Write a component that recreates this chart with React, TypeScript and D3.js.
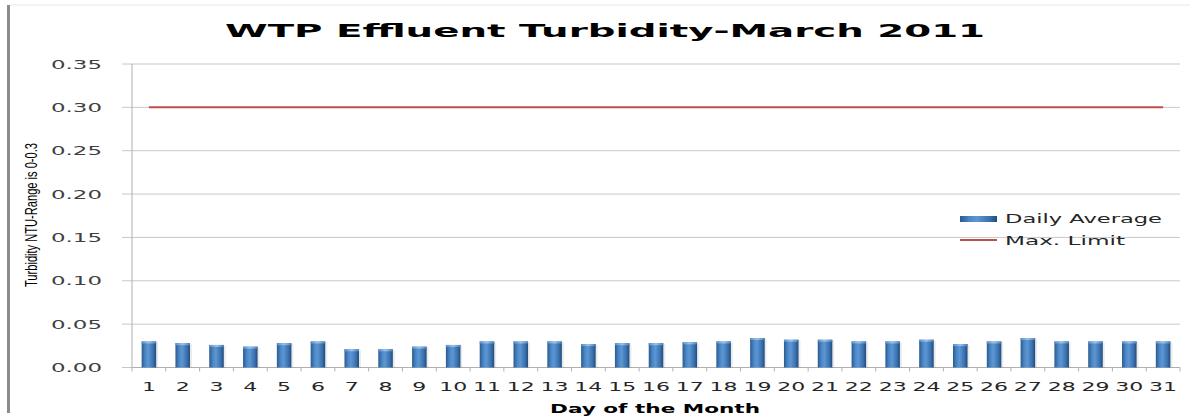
import React from 'react';
import * as d3 from 'd3';

const days = ['1','2','3','4','5','6','7','8','9','10','11','12','13','14','15','16','17','18','19','20','21','22','23','24','25','26','27','28','29','30','31'];
const dailyAverage = [0.030, 0.028, 0.026, 0.024, 0.028, 0.030, 0.021, 0.021, 0.024, 0.026, 0.030,
  0.030, 0.030, 0.027, 0.028, 0.028, 0.029, 0.030, 0.034, 0.032, 0.032, 0.030,
  0.030, 0.032, 0.027, 0.030, 0.034, 0.030, 0.030, 0.030, 0.030];
const maxLimit = [0.3, 0.3, 0.3, 0.3, 0.3, 0.3, 0.3, 0.3, 0.3, 0.3, 0.3,
  0.3, 0.3, 0.3, 0.3, 0.3, 0.3, 0.3, 0.3, 0.3, 0.3, 0.3,
  0.3, 0.3, 0.3, 0.3, 0.3, 0.3, 0.3, 0.3, 0.3];
const yTicks = [0, 0.05, 0.1, 0.15, 0.2, 0.25, 0.3, 0.35];

const W = 1190, H = 417;
const left = 132, right = 1180, top = 64, bottom = 367.5;

const wideFont = 'DejaVu Sans, Verdana, sans-serif';

export default function App() {
  const x = d3.scaleBand<string>().domain(days).range([left, right]).paddingInner(0.57).paddingOuter(0.285);
  const y = d3.scaleLinear().domain([0, 0.35]).range([bottom, top]);
  const step = x.step();
  const line = d3.line<number>()
    .x((_, i) => (x(days[i]) as number) + x.bandwidth() / 2)
    .y(d => y(d));

  return (
    <svg width={W} height={H} style={{ position: 'absolute', left: 0, top: 0, background: '#fff' }}>
      <defs>
        <linearGradient id="barGrad" x1="0" x2="1" y1="0" y2="0">
          <stop offset="0" stopColor="#2a5a8e" />
          <stop offset="0.25" stopColor="#4a86c6" />
          <stop offset="0.45" stopColor="#5c97d4" />
          <stop offset="0.8" stopColor="#3a70ad" />
          <stop offset="1" stopColor="#1f4c7d" />
        </linearGradient>
        <linearGradient id="capGrad" x1="0" x2="1" y1="0" y2="0">
          <stop offset="0" stopColor="#5b90c8" />
          <stop offset="0.5" stopColor="#9cc3ec" />
          <stop offset="1" stopColor="#4f80b8" />
        </linearGradient>
      </defs>

      {/* frame */}
      <line x1={10} x2={W} y1={5} y2={5} stroke="#e6e6e6" />
      <rect x={7} y={5} width={3} height={408} fill="#8c8c8c" />

      {/* title */}
      <text x={225} y={37} fontFamily={wideFont} fontWeight="bold" fontSize={17}
        textLength={760} lengthAdjust="spacingAndGlyphs" fill="#000">WTP Effluent Turbidity-March 2011</text>

      {/* gridlines and y ticks */}
      {yTicks.map(t => (
        <g key={t}>
          <line x1={122} x2={right} y1={y(t)} y2={y(t)} stroke="#c8c8c8" strokeWidth={1} />
          <text x={102} y={y(t) + 4.5} textAnchor="end" fontFamily={wideFont} fontSize={12.5}
            textLength={51} lengthAdjust="spacingAndGlyphs" fill="#404040">{t.toFixed(2)}</text>
        </g>
      ))}
      <line x1={left} x2={left} y1={top} y2={bottom + 4} stroke="#b0b0b0" />

      {/* x axis ticks */}
      {days.map((d, i) => (
        <line key={d} x1={left + step * (i + 1)} x2={left + step * (i + 1)} y1={bottom} y2={bottom + 4} stroke="#b0b0b0" />
      ))}
      <line x1={left} x2={right} y1={bottom} y2={bottom} stroke="#b0b0b0" />

      {/* bars */}
      {dailyAverage.map((v, i) => {
        const bx = x(days[i]) as number;
        const bw = x.bandwidth();
        const by = y(v);
        return (
          <g key={i}>
            <rect x={bx + 2} y={by + 1} width={bw} height={bottom - by - 1} fill="#000" opacity={0.08} />
            <rect x={bx} y={by} width={bw} height={bottom - by} fill="url(#barGrad)" />
            <rect x={bx} y={by} width={bw} height={2} fill="url(#capGrad)" />
          </g>
        );
      })}

      {/* max limit */}
      <path d={line(maxLimit) || ''} fill="none" stroke="#c0504d" strokeWidth={2} />

      {/* x labels */}
      {days.map(d => {
        const cx = (x(d) as number) + x.bandwidth() / 2;
        return (
          <text key={d} x={cx} y={391} textAnchor="middle" fontFamily={wideFont} fontSize={12.5}
            textLength={d.length * 14} lengthAdjust="spacingAndGlyphs" fill="#262626">{d}</text>
        );
      })}

      {/* axis titles */}
      <text x={550} y={413} fontFamily={wideFont} fontWeight="bold" fontSize={12.5}
        textLength={210} lengthAdjust="spacingAndGlyphs" fill="#000">Day of the Month</text>
      <text transform="translate(37,287) rotate(-90)" fontFamily="Liberation Sans Narrow, Liberation Sans, sans-serif"
        fontSize={17} textLength={144} lengthAdjust="spacingAndGlyphs" fill="#000">Turbidity NTU-Range is 0-0.3</text>

      {/* legend */}
      <rect x={960} y={216} width={37} height={6} fill="url(#barGrad)" />
      <text x={1005} y={223} fontFamily={wideFont} fontSize={12} textLength={157} lengthAdjust="spacingAndGlyphs" fill="#262626">Daily Average</text>
      <line x1={960} x2={997} y1={240} y2={240} stroke="#c0504d" strokeWidth={2} />
      <text x={1005} y={245} fontFamily={wideFont} fontSize={12} textLength={120} lengthAdjust="spacingAndGlyphs" fill="#262626">Max. Limit</text>
    </svg>
  );
}
